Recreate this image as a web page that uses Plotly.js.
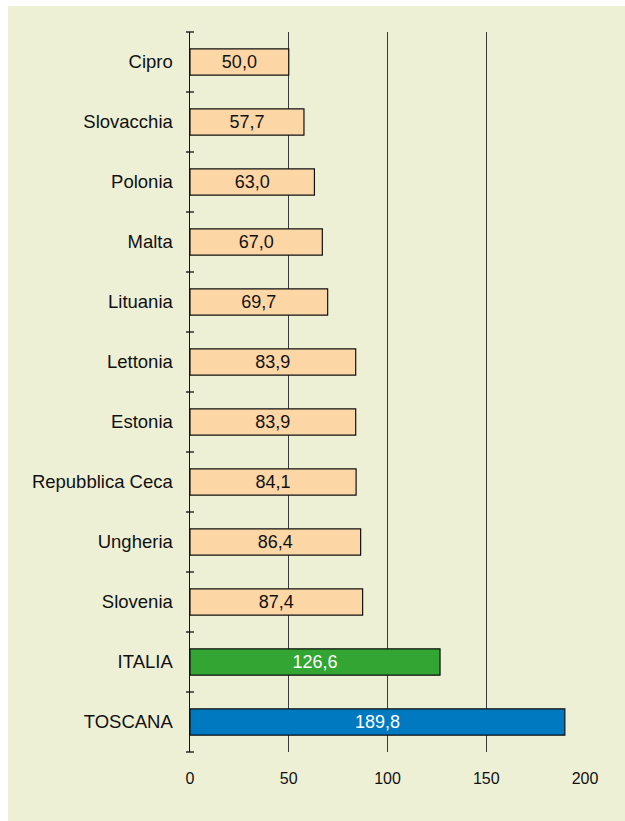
<!DOCTYPE html>
<html>
<head>
<meta charset="utf-8">
<script src="https://cdn.plot.ly/plotly-3.0.1.min.js"></script>
<style>
  html, body { margin: 0; padding: 0; background: #ffffff; }
  #chart { position: absolute; left: 8px; top: 6px; width: 617px; height: 815px; }
</style>
</head>
<body>
<div id="chart"></div>
<script>
var categories = ['Cipro', 'Slovacchia', 'Polonia', 'Malta', 'Lituania', 'Lettonia', 'Estonia', 'Repubblica Ceca', 'Ungheria', 'Slovenia', 'ITALIA', 'TOSCANA'];
var values = [50.0, 57.7, 63.0, 67.0, 69.7, 83.9, 83.9, 84.1, 86.4, 87.4, 126.6, 189.8];
var xTicks = [0, 50, 100, 150, 200];

var highlight = { 'ITALIA': '#33a532', 'TOSCANA': '#0079c1' };
var barColors = categories.map(function (c) { return highlight[c] || '#fdd6a6'; });
var textColors = categories.map(function (c) { return highlight[c] ? '#ffffff' : '#111111'; });

var yRange = [categories.length - 0.5, -0.5];

// crossing tick marks on the category axis, at the boundaries between categories
var tickShapes = [];
for (var i = 0; i <= categories.length; i++) {
  var f = 1 - i / categories.length;
  tickShapes.push({
    type: 'line',
    xref: 'paper', yref: 'paper',
    xsizemode: 'pixel', xanchor: 0, x0: -4, x1: 4,
    y0: f, y1: f,
    line: { color: '#111111', width: 1.3 },
    layer: 'above'
  });
}

var bars = {
  type: 'bar',
  orientation: 'h',
  x: values,
  y: categories,
  width: 0.44,
  marker: { color: barColors, line: { color: '#111111', width: 1.2 } },
  texttemplate: '%{x:.1f}',
  textposition: 'inside',
  insidetextanchor: 'middle',
  textangle: 0,
  insidetextfont: { family: 'Liberation Sans, Arial, sans-serif', size: 18, color: textColors },
  hoverinfo: 'skip',
  cliponaxis: false,
  showlegend: false
};

var layout = {
  separators: ',.',
  paper_bgcolor: '#eef0d6',
  plot_bgcolor: '#eef0d6',
  margin: { l: 182, r: 40, t: 26, b: 69 },
  font: { family: 'Liberation Sans, Arial, sans-serif', color: '#111111' },
  uniformtext: { mode: 'show', minsize: 18 },
  shapes: tickShapes,
  xaxis: {
    range: [0, 200],
    tickvals: xTicks,
    ticktext: xTicks.map(String),
    showgrid: true,
    gridcolor: '#3a3a3a',
    gridwidth: 1.2,
    zeroline: false,
    showline: false,
    ticks: '',
    ticklabelstandoff: 15,
    tickfont: { size: 16, color: '#111111' },
    fixedrange: true
  },
  yaxis: {
    type: 'category',
    categoryorder: 'array',
    categoryarray: categories,
    range: yRange,
    showline: true,
    linecolor: '#111111',
    linewidth: 1.5,
    ticks: '',
    showgrid: false,
    zeroline: false,
    ticklabelstandoff: 12,
    tickfont: { size: 18.5, color: '#111111' },
    fixedrange: true
  }
};

Plotly.newPlot('chart', [bars], layout, { displayModeBar: false, staticPlot: true });
</script>
</body>
</html>
